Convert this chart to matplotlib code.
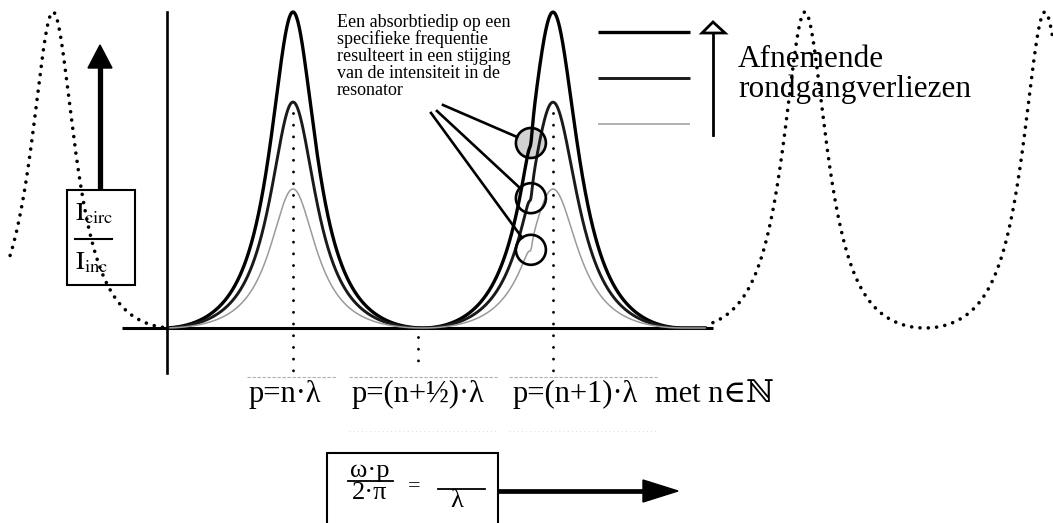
import numpy as np
import matplotlib.pyplot as plt
from matplotlib.patches import Rectangle, Polygon

plt.rcParams['font.family'] = ['Liberation Serif', 'DejaVu Serif']
plt.rcParams['mathtext.fontset'] = 'stix'

# resonances of the ring, x in units of lambda, y = I_circ / I_inc (top curve = 1)
mode_pos = [0.0, 1.0]
mode_hwhm = [0.115, 0.125]
peak_heights = [1.00, 0.715, 0.44]      # decreasing round-trip loss -> higher peak
curve_colors = ['black', '#1a1a1a', '#9a9a9a']
curve_widths = [2.4, 2.1, 1.1]

# narrow absorption dip on the second resonance
dip_pos = 0.915
dip_depth = [0.045, 0.04, 0.03]
dip_hwhm = 0.008

# wide dotted comb drawn outside the main axis
dot_centres = [-0.923, 1.969, 2.892]
dot_period = 0.923
dot_hwhm = 0.11
dot_spans = [(-1.088, -0.485), (1.615, 2.923)]

guide_pos = [0.0, 0.48, 1.0]
guide_top = [0.68, -0.03, 0.68]
mode_labels = ['p=n·λ', 'p=(n+½)·λ', 'p=(n+1)·λ', 'met n∈ℕ']
note_lines = ['Een absorbtiedip op een', 'specifieke frequentie',
              'resulteert in een stijging', 'van de intensiteit in de',
              'resonator']

W, H = 1053, 523
X0, Y0, SX, SY = 293, 328, 260, 316


def X(px):
    return (px - X0) / SX


def Y(py):
    return (Y0 - py) / SY


def airy(x, centre, hwhm, period=1.0):
    F = 1 / np.sin(np.pi * hwhm / period) ** 2
    d = (x - centre) / period
    a = 1 / (1 + F * np.sin(np.pi * d) ** 2)
    amin = 1 / (1 + F)
    out = (a - amin) / (1 - amin)
    out[np.abs(d) > 0.5] = 0
    return out


def curve(x, i):
    y = sum(airy(x, c, w) for c, w in zip(mode_pos, mode_hwhm)) * peak_heights[i]
    return y - dip_depth[i] / (1 + ((x - dip_pos) / dip_hwhm) ** 2)


fig = plt.figure(figsize=(W / 100, H / 100), dpi=100)
ax = fig.add_axes([0, 0, 1, 1])
ax.set_xlim(X(0), X(W))
ax.set_ylim(Y(H), Y(0))
ax.axis('off')

# axes of the diagram
ax.plot([X(167), X(167)], [Y(373), Y(12)], color='black', lw=1.9)
ax.plot([X(122), X(713)], [0, 0], color='black', lw=2.2, solid_capstyle='butt')

# dotted comb
for lo, hi in dot_spans:
    xs = np.linspace(lo, hi, 800)
    ys = sum(airy(xs, c, dot_hwhm, dot_period) for c in dot_centres)
    ax.plot(xs, ys, color='black', lw=2.6, linestyle=(0, (0.01, 2.3)),
            dash_capstyle='round')

# guides down to the labels
for gx, gt in zip(guide_pos, guide_top):
    ax.plot([gx, gx], [gt, Y(372)], color='black', lw=2.1,
            linestyle=(0, (0.01, 4.0)), dash_capstyle='round')

# resonance curves
xs = np.linspace(X(170), X(705), 3000)
for i in range(3):
    ax.plot(xs, curve(xs, i), color=curve_colors[i], lw=curve_widths[i], zorder=4)

# circles around the dips, with pointer lines from the note
starts = [(443, 105), (437, 111), (431, 113)]
r = 15
for i in range(3):
    cy = curve(np.array([dip_pos]), i)[0]
    cpx, cpy = X0 + SX * dip_pos, Y0 - SY * cy
    face = '#d2d2d2' if i == 0 else 'none'
    ax.scatter([dip_pos], [cy], s=(2 * r * 0.72) ** 2, facecolors=face,
               edgecolors='none', zorder=3)
    ax.scatter([dip_pos], [cy], s=(2 * r * 0.72) ** 2, facecolors='none',
               edgecolors='black', linewidths=1.9, zorder=5)
    sx, sy = starts[i]
    d = np.hypot(cpx - sx, cpy - sy)
    ex, ey = cpx - (cpx - sx) * r / d, cpy - (cpy - sy) * r / d
    ax.plot([X(sx), X(ex)], [Y(sy), Y(ey)], color='black', lw=1.9, zorder=5)

for k, line in enumerate(note_lines):
    ax.text(X(337), Y(27 + 17 * k), line, fontsize=13, va='baseline',
            ha='left')

# legend for the three loss levels
for k, yy in enumerate([32, 78, 124]):
    ax.plot([X(598), X(690)], [Y(yy), Y(yy)], color=curve_colors[k],
            lw=curve_widths[k], solid_capstyle='butt')
ax.plot([X(713), X(713)], [Y(135), Y(30)], color='black', lw=2.0)
ax.add_patch(Polygon([(X(713), Y(22)), (X(702), Y(33)), (X(725), Y(33))],
                     closed=True, facecolor='white', edgecolor='black', lw=2.0,
                     zorder=6))
ax.text(X(738), Y(67), 'Afnemende', fontsize=22.5, va='baseline')
ax.text(X(738), Y(97), 'rondgangverliezen', fontsize=22.5, va='baseline')

# vertical quantity: I_circ / I_inc
ax.plot([X(100), X(100)], [Y(190), Y(66)], color='black', lw=3.8,
        solid_capstyle='butt')
ax.add_patch(Polygon([(X(100), Y(45)), (X(88), Y(68)), (X(112), Y(68))],
                     closed=True, facecolor='black', edgecolor='black'))
ax.add_patch(Rectangle((X(67), Y(285)), X(135) - X(67), Y(190) - Y(285),
                       fill=False, edgecolor='black', lw=1.5, zorder=6))
ax.text(X(75), Y(220), r'$\mathrm{I}_{\mathrm{circ}}$', fontsize=19,
        va='baseline')
ax.plot([X(75), X(112)], [Y(239), Y(239)], color='black', lw=1.5)
ax.text(X(75), Y(269), r'$\mathrm{I}_{\mathrm{inc}}$', fontsize=19,
        va='baseline')

# labels of the guide positions
label_x = [249, 352, 513, 655]
for lx, lab in zip(label_x, mode_labels):
    ax.text(X(lx), Y(402), lab, fontsize=22, va='baseline', ha='left')
for a, b in [(247, 336), (349, 497), (509, 657)]:
    ax.plot([X(a), X(b)], [Y(377), Y(377)], color='#b0b0b0', lw=0.8,
            linestyle=(0, (3, 1.5)))
for a, b in [(349, 497), (509, 657)]:
    ax.plot([X(a), X(b)], [Y(431), Y(431)], color='#d0d0d0', lw=0.6,
            linestyle=(0, (1, 4)))

# horizontal quantity
ax.add_patch(Rectangle((X(327), Y(530)), X(498) - X(327), Y(453) - Y(530),
                       fill=False, edgecolor='black', lw=1.5))
ax.text(X(370), Y(477), 'ω·p', fontsize=19, ha='center', va='baseline')
ax.plot([X(348), X(393)], [Y(481), Y(481)], color='black', lw=1.3)
ax.text(X(370), Y(499), '2·π', fontsize=19, ha='center', va='baseline')
ax.text(X(414), Y(491), '=', fontsize=16, ha='center', va='baseline')
ax.plot([X(438), X(485)], [Y(489), Y(489)], color='black', lw=1.3)
ax.text(X(457), Y(507), 'λ', fontsize=19, ha='center', va='baseline')
ax.plot([X(498), X(645)], [Y(491), Y(491)], color='black', lw=3.4,
        solid_capstyle='butt')
ax.add_patch(Polygon([(X(678), Y(491)), (X(643), Y(480)), (X(643), Y(502))],
                     closed=True, facecolor='black', edgecolor='black'))

fig.savefig('out.png', dpi=100)
